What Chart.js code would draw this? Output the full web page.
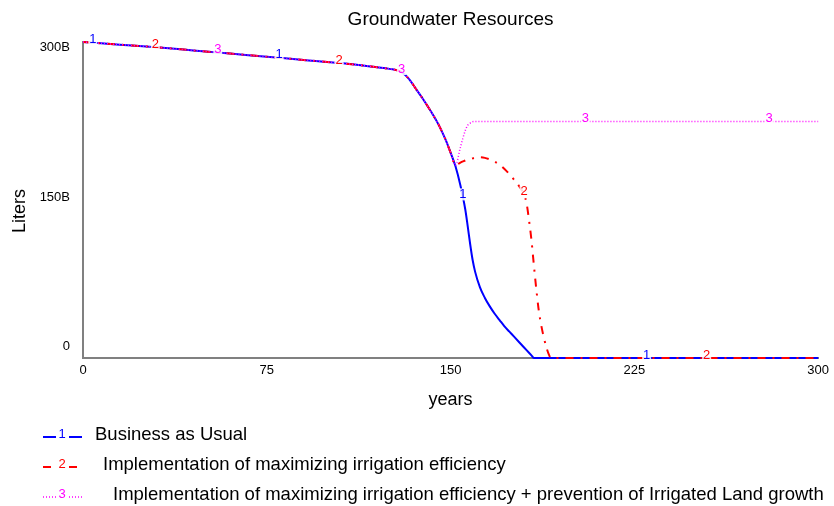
<!DOCTYPE html>
<html>
<head>
<meta charset="utf-8">
<title>Groundwater Resources</title>
<script src="https://cdn.jsdelivr.net/npm/chart.js@4/dist/chart.umd.min.js"></script>
<style>
  body { margin: 0; background: #fff; }
  #chart { display: block; }
</style>
</head>
<body>
<canvas id="chart" width="834" height="506"></canvas>
<script>
// simulation time, years
const years = [0, 15, 30, 45, 60, 75, 90, 105, 115, 120, 125, 130, 133, 136, 139, 142, 145, 148, 150,
    152, 154, 156, 157, 158, 159, 160, 162, 164, 166, 168, 170, 172, 174, 176, 178, 180,
    181, 182, 183, 184, 185, 186, 187, 188, 189, 190, 191, 200, 225, 250, 275, 300]

// groundwater stock, billions of liters
const businessAsUsual = [300, 297.5, 295, 292, 289, 286, 283, 280, 277.5, 276, 274.5, 271.5, 265, 255, 245, 234, 222, 207, 195,
    182, 164, 141, 125, 108, 93, 82, 67, 57, 49, 42, 36, 30, 25, 20, 15, 10,
    7.5, 5, 2.5, 0, 0, 0, 0, 0, 0, 0, 0, 0, 0, 0, 0, 0]

const irrigationEfficiency = [300, 297.5, 295, 292, 289, 286, 283, 280, 277.5, 276, 274.5, 271.5, 265, 255, 245, 234, 222, 207, 195,
    183, 185.5, 187.5, 188.5, 189, 189.5, 190, 190.5, 190, 188.5, 186.5, 183.5, 179.5, 174.5, 169, 163, 155,
    147, 131, 112, 88, 65, 45, 31, 20, 11, 4, 0, 0, 0, 0, 0, 0]

const efficiencyAndLandCap = [300, 297.5, 295, 292, 289, 286, 283, 280, 277.5, 276, 274.5, 271.5, 265, 255, 245, 234, 222, 207, 195,
    183, 200, 216, 221, 223, 224.3, 224.5, 224.5, 224.5, 224.5, 224.5, 224.5, 224.5, 224.5, 224.5, 224.5, 224.5,
    224.5, 224.5, 224.5, 224.5, 224.5, 224.5, 224.5, 224.5, 224.5, 224.5, 224.5, 224.5, 224.5, 224.5, 224.5, 224.5]

const seriesNames = [
    "Business as Usual",
    "Implementation of maximizing irrigation efficiency",
    "Implementation of maximizing irrigation efficiency + prevention of Irrigated Land growth"
]

// where the run number is printed along each line
const markerYears = [
    [4, 80, 155, 230],
    [29.5, 104.5, 180, 254.5],
    [55, 130, 205, 280]
]

const xTicks = [0, 75, 150, 225, 300]
const yTicks = [0, 150, 300]
const yTickLabels = ["0", "150B", "300B"]

const FONT = '"Liberation Sans", Arial, sans-serif'
const seriesValues = [businessAsUsual, irrigationEfficiency, efficiencyAndLandCap]

function valueAt(series, t) {
    for (let i = 1; i < years.length; i++) {
        if (t <= years[i]) {
            const f = (t - years[i - 1]) / (years[i] - years[i - 1])
            return series[i - 1] + f * (series[i] - series[i - 1])
        }
    }
    return series[series.length - 1]
}

function toPoints(series) {
    return years.map((t, i) => ({ x: t, y: series[i] }))
}

// run numbers on the curves, the legend under the chart and the y title
const runLabels = {
    id: 'runLabels',
    afterDatasetsDraw(chart) {
        const { ctx, scales: { x, y } } = chart
        ctx.save()
        ctx.font = '13px ' + FONT
        ctx.textAlign = 'center'
        ctx.textBaseline = 'middle'
        chart.data.datasets.forEach((ds, i) => {
            for (const t of markerYears[i]) {
                const px = x.getPixelForValue(t)
                const py = y.getPixelForValue(valueAt(seriesValues[i], t)) - 3
                ctx.fillStyle = 'rgba(255,255,255,0.85)'
                ctx.fillRect(px - 4.5, py - 6, 9, 12)
                ctx.fillStyle = ds.borderColor
                ctx.fillText(String(i + 1), px, py)
            }
        })
        ctx.restore()
    },
    afterDraw(chart) {
        const ctx = chart.ctx
        const rowY = [435, 465, 495]
        const textX = [95, 103, 113]
        ctx.save()
        chart.data.datasets.forEach((ds, i) => {
            const ly = rowY[i] + 2
            ctx.strokeStyle = ds.borderColor
            ctx.lineWidth = ds.borderWidth
            ctx.setLineDash(ds.borderDash || [])
            ctx.beginPath()
            ctx.moveTo(43, ly)
            ctx.lineTo(56, ly)
            ctx.moveTo(69, ly)
            ctx.lineTo(82, ly)
            ctx.stroke()

            ctx.fillStyle = ds.borderColor
            ctx.font = '13px ' + FONT
            ctx.textAlign = 'center'
            ctx.textBaseline = 'middle'
            ctx.fillText(String(i + 1), 62, rowY[i] - 1)

            ctx.fillStyle = '#000'
            ctx.font = '18.5px ' + FONT
            ctx.textAlign = 'left'
            ctx.fillText(ds.label, textX[i], rowY[i])
        })

        ctx.translate(20, 211)
        ctx.rotate(-Math.PI / 2)
        ctx.font = '18px ' + FONT
        ctx.textAlign = 'center'
        ctx.textBaseline = 'middle'
        ctx.fillStyle = '#000'
        ctx.fillText('Liters', 0, 0)
        ctx.restore()
    }
}

new Chart(document.getElementById('chart'), {
    type: 'line',
    data: {
        datasets: [{
            label: seriesNames[0],
            data: toPoints(businessAsUsual),
            borderColor: '#0000ff',
            borderWidth: 2,
            order: 3
        }, {
            label: seriesNames[1],
            data: toPoints(irrigationEfficiency),
            borderColor: '#ff0000',
            borderWidth: 2,
            borderDash: [8, 7, 2, 7],
            order: 2
        }, {
            label: seriesNames[2],
            data: toPoints(efficiencyAndLandCap),
            borderColor: '#ff00ff',
            borderWidth: 1.5,
            borderDash: [1, 2],
            order: 1
        }]
    },
    options: {
        responsive: false,
        animation: false,
        layout: { padding: { left: 0, right: 12, top: 0, bottom: 0 } },
        datasets: { line: { clip: 4 } },
        elements: {
            point: { radius: 0 },
            line: { cubicInterpolationMode: 'monotone', fill: false }
        },
        plugins: {
            legend: { display: false },
            tooltip: { enabled: false },
            title: {
                display: true,
                text: 'Groundwater Resources',
                fullSize: false,
                color: '#000',
                font: { family: FONT, size: 19, weight: 'normal' },
                padding: { top: 8, bottom: 11.2 }
            }
        },
        scales: {
            x: {
                type: 'linear',
                min: 0,
                max: 300,
                grid: { display: false, drawTicks: false },
                border: { display: true, color: '#808080', width: 2 },
                afterBuildTicks: s => { s.ticks = xTicks.map(v => ({ value: v })) },
                ticks: {
                    padding: 5,
                    maxRotation: 0,
                    autoSkip: false,
                    color: '#000',
                    font: { family: FONT, size: 13 }
                },
                title: {
                    display: true,
                    text: 'years',
                    color: '#000',
                    font: { family: FONT, size: 18 },
                    padding: { top: 0, bottom: 95 }
                },
                afterFit: s => { s.height = 148 }
            },
            y: {
                min: 0,
                max: 300,
                grid: { display: false, drawTicks: false },
                border: { display: true, color: '#808080', width: 2 },
                afterBuildTicks: s => { s.ticks = yTicks.map(v => ({ value: v })) },
                ticks: {
                    padding: 13,
                    color: '#000',
                    // two-line labels: the empty line pushes the end labels inside the axis
                    callback: v => {
                        const label = yTickLabels[yTicks.indexOf(v)]
                        return v === 300 ? ['', label] : [label, '']
                    },
                    font: c => {
                        const v = c.tick ? c.tick.value : 150
                        return {
                            family: FONT,
                            size: 13,
                            lineHeight: v === 300 ? '10px' : v === 0 ? '24px' : '6px'
                        }
                    }
                },
                afterFit: s => { s.width = 83 }
            }
        }
    },
    plugins: [runLabels]
})
</script>
</body>
</html>
